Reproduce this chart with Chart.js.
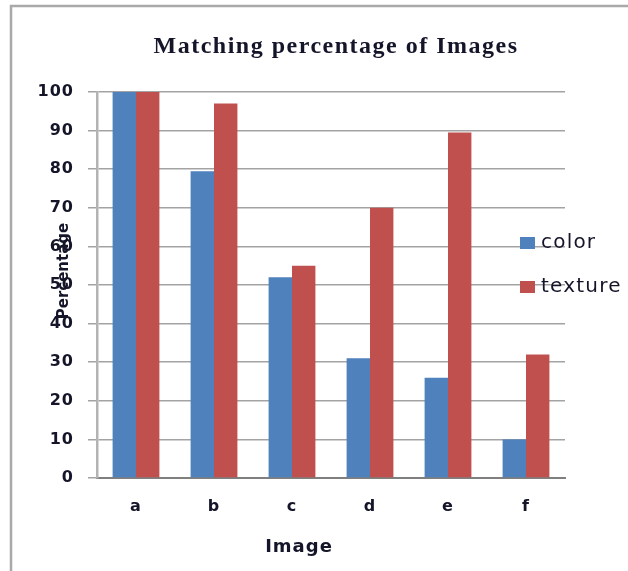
<!DOCTYPE html>
<html>
<head>
<meta charset="utf-8">
<script src="https://cdn.jsdelivr.net/npm/chart.js@4/dist/chart.umd.min.js"></script>
<style>
  html, body { margin: 0; padding: 0; background: #fff; }
  canvas { display: block; }
</style>
</head>
<body>
<canvas id="c" width="628" height="571"></canvas>
<script>
// Chart content
const chartTitle = 'Matching percentage of Images';
const xAxisTitle = 'Image';
const yAxisTitle = 'Percentage';
const categories = ['a', 'b', 'c', 'd', 'e', 'f'];
const colorValues = [100, 79.5, 52, 31, 26, 10];
const textureValues = [100, 97, 55, 70, 89.5, 32];
const seriesNames = ['color', 'texture'];
const yMin = 0, yMax = 100, yStep = 10;

const BLUE = '#4f81bd';
const RED = '#c0504d';
const TEXT = '#15152a';

// Draws the frame, title, axis titles and the legend on top of the chart
const decorations = {
  id: 'decorations',
  beforeDraw(chart) {
    chart.ctx.letterSpacing = '1px';
  },
  afterDraw(chart) {
    const ctx = chart.ctx;
    ctx.save();
    ctx.letterSpacing = '0px';

    // outer frame (top and left edges)
    ctx.strokeStyle = '#a9a9a9';
    ctx.lineWidth = 2.5;
    ctx.beginPath();
    ctx.moveTo(11, 571);
    ctx.lineTo(11, 6);
    ctx.lineTo(628, 6);
    ctx.stroke();

    ctx.fillStyle = TEXT;
    ctx.textBaseline = 'middle';

    // chart title
    ctx.font = 'bold 24px "Liberation Serif", serif';
    ctx.letterSpacing = '1.5px';
    ctx.textAlign = 'center';
    ctx.fillText(chartTitle, 336, 47);

    // x-axis title
    ctx.font = 'bold 18px "DejaVu Sans", sans-serif';
    ctx.letterSpacing = '1px';
    ctx.fillText(xAxisTitle, 299, 547);

    // y-axis title, rotated
    ctx.save();
    ctx.translate(64, 271);
    ctx.rotate(-Math.PI / 2);
    ctx.font = 'bold 15px "DejaVu Sans", sans-serif';
    ctx.letterSpacing = '0px';
    ctx.fillText(yAxisTitle, 0, 0);
    ctx.restore();

    // legend
    const items = chart.data.datasets.map(ds => ({ label: ds.label, color: ds.backgroundColor }));
    const rowsY = [243, 287];
    ctx.font = '20px "DejaVu Sans", sans-serif';
    ctx.letterSpacing = '1.2px';
    ctx.textAlign = 'left';
    items.forEach((it, i) => {
      const y = rowsY[i];
      ctx.fillStyle = it.color;
      ctx.fillRect(520, y - 6, 15, 12);
      ctx.fillStyle = TEXT;
      ctx.fillText(it.label, 541, y);
    });
    ctx.restore();
  }
};

new Chart(document.getElementById('c'), {
  type: 'bar',
  data: {
    labels: categories,
    datasets: [
      { label: seriesNames[0], data: colorValues, backgroundColor: BLUE },
      { label: seriesNames[1], data: textureValues, backgroundColor: RED }
    ]
  },
  options: {
    responsive: false,
    devicePixelRatio: 1,
    animation: false,
    layout: { padding: { top: 92, right: 63, bottom: 0, left: 0 } },
    datasets: { bar: { categoryPercentage: 0.6, barPercentage: 1.0 } },
    plugins: {
      legend: { display: false },
      title: { display: false },
      tooltip: { enabled: false }
    },
    scales: {
      x: {
        grid: { display: false },
        border: { display: true, color: '#7f7f7f', width: 2 },
        ticks: {
          color: TEXT,
          padding: 11,
          font: { family: '"DejaVu Sans", sans-serif', size: 16, weight: 'bold' }
        },
        afterFit(scale) { scale.height = 93; }
      },
      y: {
        min: yMin,
        max: yMax,
        grid: { color: '#a3a3a3', lineWidth: 1.5, tickLength: 9 },
        border: { display: true, color: '#b3b3b3', width: 2.5 },
        ticks: {
          stepSize: yStep,
          color: TEXT,
          padding: 14,
          font: { family: '"DejaVu Sans", sans-serif', size: 16, weight: 'bold' }
        },
        afterFit(scale) { scale.width = 97; }
      }
    }
  },
  plugins: [decorations]
});
</script>
</body>
</html>
